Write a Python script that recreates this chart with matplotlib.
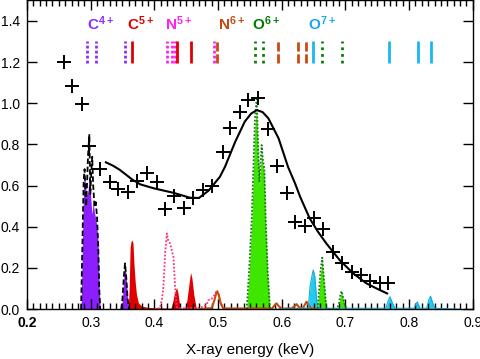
import numpy as np
import matplotlib
matplotlib.use("Agg")
import matplotlib.pyplot as plt
from matplotlib.ticker import MultipleLocator, FixedFormatter, FixedLocator

plt.rcParams['font.family'] = ['Liberation Sans', 'DejaVu Sans']
plt.rcParams['mathtext.fontset'] = 'custom'
plt.rcParams['mathtext.rm'] = 'Liberation Sans'
plt.rcParams['mathtext.bf'] = 'Liberation Sans:bold'

# measured points (crosses)
obs_e = [0.2575, 0.2715, 0.2863, 0.298, 0.315, 0.330, 0.3437, 0.359, 0.3735, 0.389, 0.404,
         0.4174, 0.4315, 0.446, 0.461, 0.476, 0.491, 0.508, 0.519, 0.5345, 0.5476, 0.563,
         0.578, 0.593, 0.608, 0.621, 0.6365, 0.651, 0.665, 0.680, 0.695, 0.7097, 0.7238,
         0.7384, 0.754, 0.767]
obs_y = [1.202, 1.084, 0.995, 0.792, 0.679, 0.619, 0.583, 0.570, 0.622, 0.660, 0.616,
         0.486, 0.549, 0.490, 0.538, 0.58, 0.60, 0.765, 0.878, 0.959, 1.016, 1.027,
         0.874, 0.695, 0.565, 0.424, 0.403, 0.441, 0.387, 0.279, 0.225, 0.181, 0.165,
         0.138, 0.128, 0.125]

# model curve
model_e = [0.324, 0.335, 0.346, 0.356, 0.365, 0.378, 0.399, 0.430, 0.456, 0.470, 0.485,
           0.503, 0.511, 0.527, 0.542, 0.552, 0.561, 0.570, 0.579, 0.595, 0.610, 0.621,
           0.629, 0.644, 0.656, 0.670, 0.691, 0.712, 0.733, 0.749, 0.7655]
model_y = [0.713, 0.697, 0.676, 0.652, 0.630, 0.606, 0.587, 0.565, 0.541, 0.540, 0.575,
           0.643, 0.692, 0.813, 0.911, 0.950, 0.967, 0.957, 0.927, 0.830, 0.690, 0.610,
           0.545, 0.440, 0.380, 0.319, 0.238, 0.174, 0.125, 0.100, 0.076]

# C4+ spectrum (filled) and its dashed envelope
c4_e = [0.285, 0.287, 0.289, 0.2905, 0.292, 0.294, 0.296, 0.298, 0.300, 0.302, 0.304,
        0.306, 0.308, 0.310, 0.312, 0.3135, 0.315]
c4_y = [0.0, 0.30, 0.60, 0.66, 0.60, 0.55, 0.58, 0.66, 0.55, 0.46, 0.52, 0.47, 0.44,
        0.40, 0.30, 0.10, 0.0]
c4env_e = [0.285, 0.287, 0.289, 0.2905, 0.292, 0.293, 0.2945, 0.296, 0.298, 0.2995,
           0.301, 0.3025, 0.304, 0.306, 0.308, 0.310, 0.312, 0.3135, 0.315]
c4env_y = [0.0, 0.30, 0.62, 0.68, 0.56, 0.50, 0.62, 0.75, 0.85, 0.56, 0.66, 0.74, 0.60,
           0.50, 0.52, 0.45, 0.30, 0.10, 0.0]
c4b_e = [0.348, 0.350, 0.352, 0.354, 0.356, 0.358, 0.3605]
c4b_y = [0.0, 0.05, 0.15, 0.222, 0.15, 0.05, 0.0]

# C5+ spectrum
c5_e = [0.359, 0.3605, 0.362, 0.3635, 0.365, 0.3665, 0.368, 0.370, 0.372, 0.375, 0.380,
        0.390, 0.426, 0.4285, 0.431, 0.433, 0.435, 0.437, 0.4393, 0.441, 0.448, 0.451,
        0.4535, 0.456, 0.457, 0.459, 0.462, 0.4655, 0.467]
c5_y = [0.0, 0.10, 0.30, 0.33, 0.335, 0.32, 0.22, 0.13, 0.07, 0.03, 0.015, 0.008, 0.005,
        0.03, 0.07, 0.09, 0.105, 0.08, 0.03, 0.005, 0.005, 0.04, 0.10, 0.16, 0.178, 0.15,
        0.07, 0.01, 0.0]

# N5+ spectrum (dotted outline)
n5_e = [0.400, 0.409, 0.412, 0.4143, 0.417, 0.4196, 0.422, 0.4247, 0.427, 0.430, 0.4326,
        0.435, 0.440, 0.470, 0.482, 0.485, 0.490, 0.495, 0.498, 0.501, 0.504, 0.508,
        0.520]
n5_y = [0.0, 0.005, 0.05, 0.108, 0.27, 0.368, 0.33, 0.319, 0.29, 0.254, 0.108, 0.01,
        0.004, 0.005, 0.02, 0.044, 0.05, 0.07, 0.092, 0.07, 0.03, 0.005, 0.0]

# N6+ spectrum (orange line)
n6_e = [0.470, 0.490, 0.494, 0.497, 0.499, 0.501, 0.504, 0.508, 0.585, 0.589, 0.592,
        0.595, 0.600, 0.615, 0.6205, 0.6235, 0.627, 0.633, 0.636, 0.639, 0.642, 0.646,
        0.660]
n6_y = [0.0, 0.005, 0.04, 0.075, 0.084, 0.07, 0.03, 0.003, 0.003, 0.02, 0.028, 0.015,
        0.002, 0.003, 0.015, 0.024, 0.01, 0.004, 0.02, 0.036, 0.02, 0.003, 0.0]

# O6+ spectrum (green)
o6_e = [0.545, 0.5487, 0.5529, 0.5555, 0.558, 0.5607, 0.5632, 0.565, 0.5685, 0.5705,
        0.5727, 0.5748, 0.578, 0.5816, 0.6564, 0.659, 0.661, 0.6636, 0.6664, 0.6685,
        0.670, 0.687, 0.690, 0.692, 0.694, 0.696, 0.699, 0.702]
o6_y = [0.0, 0.181, 0.44, 0.684, 0.927, 1.02, 0.765, 0.62, 0.797, 0.72, 0.684, 0.44,
        0.181, 0.0, 0.0, 0.108, 0.19, 0.25, 0.141, 0.06, 0.0, 0.0, 0.03, 0.07, 0.0875,
        0.06, 0.02, 0.0]
o6fill_y = [0.0, 0.17, 0.42, 0.66, 0.90, 0.975, 0.74, 0.60, 0.77, 0.70, 0.66, 0.42,
            0.17, 0.0, 0.0, 0.10, 0.18, 0.235, 0.13, 0.055, 0.0, 0.0, 0.025, 0.065, 0.08,
            0.055, 0.018, 0.0]

# O7+ spectrum (cyan)
o7_e = [0.600, 0.6417, 0.6444, 0.648, 0.6495, 0.652, 0.6548, 0.657, 0.7636, 0.767, 0.770,
        0.773, 0.7777, 0.8075, 0.810, 0.8127, 0.8150, 0.817, 0.8274, 0.831, 0.8336,
        0.837, 0.8404, 0.880]
o7_y = [0.003, 0.005, 0.108, 0.17, 0.19, 0.157, 0.044, 0.004, 0.004, 0.04, 0.06, 0.035,
        0.004, 0.004, 0.02, 0.035, 0.02, 0.004, 0.004, 0.045, 0.063, 0.03, 0.004, 0.0]

# transition line markers
line_e = [0.294, 0.308, 0.3546, 0.3656, 0.4205, 0.4285, 0.432, 0.4362, 0.4582, 0.4938,
          0.499, 0.558, 0.571, 0.594, 0.626, 0.638, 0.6495, 0.6627, 0.6945, 0.768, 0.814,
          0.8336]
line_kind = ['c4', 'c4', 'c4', 'c5', 'n5', 'n5', 'n5', 'c5', 'c5', 'n5',
             'n6', 'o6', 'o6', 'n6', 'n6', 'n6', 'o7', 'o6', 'o6', 'o7', 'o7', 'o7']

ion_names = ['C', 'C', 'N', 'N', 'O', 'O']
ion_charge = ['4+', '5+', '5+', '6+', '6+', '7+']
ion_label_e = [0.294, 0.357, 0.417, 0.500, 0.554, 0.641]

styles = {
    'c4': dict(color='#8c2cff', ls=(0, (1, 0.8))),
    'c5': dict(color='#e00000', ls='-'),
    'n5': dict(color='#ff22ee', ls=(0, (1, 0.8))),
    'n6': dict(color='#cc4a10', ls=(0, (3.3, 1.0))),
    'o6': dict(color='#0a800a', ls=(0, (1, 1.4))),
    'o7': dict(color='#18b8ee', ls='-'),
}
label_colors = ['#8c2cff', '#e00000', '#ff22ee', '#c04a10', '#007a00', '#1aa7ee']

fig = plt.figure(figsize=(4.81, 3.59), dpi=100)
ax = fig.add_axes([0.056, 0.139, 0.927, 0.86])

# spectra
ax.fill_between(c4_e, c4_y, color='#8c1eff', lw=0)
ax.plot(c4env_e, c4env_y, color='black', lw=1.3, ls=(0, (3, 1.5)))
ax.fill_between(c4b_e, c4b_y, color='#8c1eff', lw=0)
ax.plot(c4b_e, c4b_y, color='black', lw=1.3, ls=(0, (3, 1.5)))
ax.fill_between(c5_e, c5_y, color='#e00000', lw=0)
ax.plot(n5_e, n5_y, color='#ff3377', lw=1.3, ls=(0, (1, 1)))
ax.plot(n6_e, n6_y, color='#cc4a10', lw=1.5)
ax.fill_between(o7_e, o7_y, color='#22ccee', lw=0)
ax.plot(o7_e, o7_y, color='#18aadd', lw=0.8)
ax.fill_between(o6_e, o6fill_y, color='#3ee600', lw=0)
ax.plot(o6_e, o6_y, color='#1a7a1a', lw=1.3, ls=(0, (1, 1)))

# model and data
ax.plot(model_e, model_y, color='black', lw=1.5)
ax.plot(obs_e, obs_y, ls='none', marker='+', ms=10, mew=1.4, color='black')

# line markers
for e, k in zip(line_e, line_kind):
    st = styles[k]
    ax.plot([e, e], [1.196, 1.303], color=st['color'], ls=st['ls'], lw=2.0,
            solid_capstyle='butt', dash_capstyle='butt')

for name, q, e, c in zip(ion_names, ion_charge, ion_label_e, label_colors):
    ax.text(e, 1.355, r'$\mathbf{' + name + '^{' + q + '}}$', color=c,
            fontsize=11, ha='left', va='baseline')

ax.set_xlim(0.2, 0.9)
ax.set_ylim(0.0, 1.5)
ax.xaxis.set_major_locator(MultipleLocator(0.1))
ax.xaxis.set_minor_locator(MultipleLocator(0.01))
ax.yaxis.set_major_locator(FixedLocator([0.0, 0.2, 0.4, 0.6, 0.8, 1.0, 1.2, 1.4]))
ax.set_yticklabels(['0.0', '0.2', '0.4', '0.6', '0.8', '1.0', '1.2', '1.4'])
ax.set_xticks([0.2, 0.3, 0.4, 0.5, 0.6, 0.7, 0.8, 0.9])
ax.set_xticklabels(['0.2', '0.3', '0.4', '0.5', '0.6', '0.7', '0.8', '0.9'])
ax.get_xticklabels()[0].set_fontweight('bold')
ax.tick_params(axis='both', which='major', direction='in', length=7, width=1,
               top=True, right=True, labelsize=10, pad=5)
ax.tick_params(axis='x', which='minor', direction='in', length=4, width=1, top=True)
ax.tick_params(axis='y', which='minor', left=False, right=False)
for s in ax.spines.values():
    s.set_linewidth(1.0)
ax.set_xlabel('X-ray energy (keV)', fontsize=11, labelpad=9)

fig.savefig('out.png', dpi=100)
